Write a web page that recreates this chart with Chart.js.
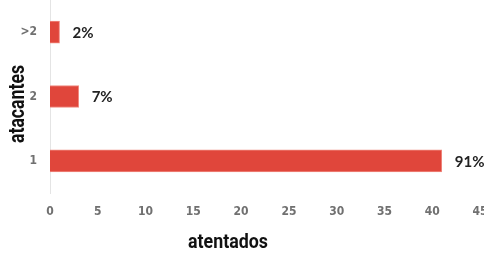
<!DOCTYPE html>
<html>
<head>
<meta charset="utf-8">
<script src="https://cdn.jsdelivr.net/npm/chart.js@4"></script>
<style>
  html, body { margin: 0; padding: 0; background: #fff; }
  #wrap { width: 484px; height: 256px; position: relative; }
</style>
</head>
<body>
<div id="wrap"><canvas id="myChart"></canvas></div>
<script>
// data
const categories = ['>2', '2', '1']
const values = [1, 3, 41]
const labels = ['2%', '7%', '91%']
const xTitle = 'atentados'
const yTitle = 'atacantes'

const condensed = '"DejaVu Sans Condensed", Roboto, sans-serif'

// draw the percent next to each bar
const pctLabels = {
  id: 'pctLabels',
  afterDatasetsDraw(chart) {
    const ctx = chart.ctx
    const meta = chart.getDatasetMeta(0)
    ctx.save()
    ctx.font = 'bold 15px Lato, "DejaVu Sans", sans-serif'
    ctx.fillStyle = '#222'
    ctx.textBaseline = 'middle'
    ctx.textAlign = 'left'
    meta.data.forEach((bar, i) => {
      ctx.fillText(labels[i], bar.x + 13, bar.y + 1)
    })
    ctx.restore()
  }
}

// axis titles, narrow bold like the original
const axisTitles = {
  id: 'axisTitles',
  afterDraw(chart) {
    const ctx = chart.ctx
    ctx.save()
    ctx.fillStyle = '#111'
    ctx.textAlign = 'center'
    ctx.textBaseline = 'middle'

    ctx.font = 'bold 20px Roboto, sans-serif'
    ctx.save()
    ctx.translate(228, 243)
    ctx.scale(80 / ctx.measureText(xTitle).width, 1)
    ctx.fillText(xTitle, 0, 0)
    ctx.restore()

    ctx.font = 'bold 22px Roboto, sans-serif'
    ctx.save()
    ctx.translate(18, 104)
    ctx.rotate(-Math.PI / 2)
    ctx.scale(78 / ctx.measureText(yTitle).width, 1)
    ctx.fillText(yTitle, 0, 0)
    ctx.restore()

    ctx.restore()
  }
}

const ctx = document.getElementById('myChart').getContext('2d')
let myChart = new Chart(ctx, {
  type: 'bar',
  data: {
    labels: categories,
    datasets: [{
      data: values,
      backgroundColor: '#e0463b',
      borderColor: '#f08a80',
      borderWidth: 1,
      barThickness: 22
    }]
  },
  options: {
    indexAxis: 'y',
    responsive: true,
    maintainAspectRatio: false,
    animation: false,
    layout: { padding: 0 },
    plugins: {
      legend: { display: false },
      tooltip: { enabled: false }
    },
    scales: {
      x: {
        min: 0,
        max: 45,
        afterFit(scale) {
          scale.height = 63
          scale.paddingRight = 4
          scale.paddingLeft = 0
        },
        ticks: {
          stepSize: 5,
          color: '#707070',
          padding: 4,
          maxRotation: 0,
          font: { family: condensed, size: 12, weight: 'bold' }
        },
        grid: { display: false },
        border: { display: false }
      },
      y: {
        afterFit(scale) {
          scale.width = 50
          scale.paddingTop = 0
          scale.paddingBottom = 0
        },
        ticks: {
          color: '#707070',
          padding: 5,
          font: { family: condensed, size: 12, weight: 'bold' }
        },
        grid: { display: false },
        border: { display: true, color: '#e4e4e4', width: 1 }
      }
    }
  },
  plugins: [pctLabels, axisTitles]
})
</script>
</body>
</html>
